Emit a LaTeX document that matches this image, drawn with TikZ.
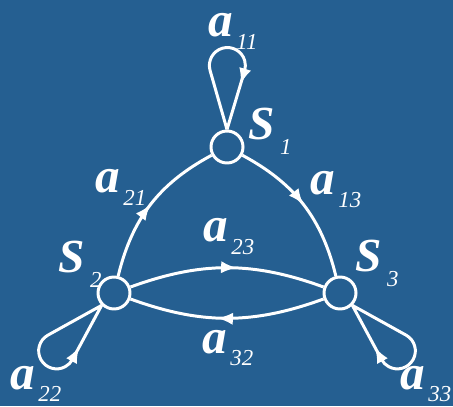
\documentclass[tikz,border=0pt]{standalone}
\usepackage{fontspec}
\setmainfont{Liberation Serif}
\usetikzlibrary{arrows.meta,decorations.markings}

\definecolor{boardblue}{RGB}{37,95,145}

\newcommand*{\wid}{453}
\newcommand*{\hei}{406}
% weight a_ij and state S_i
\newcommand*{\wgt}[1]{{\fontsize{28}{28}\selectfont\bfseries\itshape a}\kern2pt\raisebox{-7pt}{\fontsize{13}{13}\selectfont\itshape #1}}
\newcommand*{\stt}[1]{{\fontsize{27}{27}\selectfont\bfseries\itshape S}\kern3pt\raisebox{-8.5pt}{\fontsize{13}{13}\selectfont\itshape #1}}
% teardrop loop: anchor, axis angle, sense (+1 clockwise, -1 counter)
\newcommand*{\teardrop}[3]{%
	\draw[edge,midarrow=0.75] (#1) -- ++({#2+16*#3}:61.4)
		arc[start angle={#2+16*#3+90*#3}, end angle={#2-16*#3-90*#3}, radius=18] -- (#1);}

\begin{document}
\begin{tikzpicture}
[
	x=0.02cm, y=0.02cm,
	state/.style={circle,draw=white,line width=1.7pt,inner sep=0pt,minimum size=0.64cm},
	edge/.style={white,line width=1.7pt},
	midarrow/.style={postaction={decorate},decoration={markings,mark=at position #1 with {\arrow{Latex[length=9pt,width=7pt]}}}},
	lbl/.style={text=white,inner sep=0pt,anchor=base west}
]

	% background
	\fill[boardblue] (0,0) rectangle (\wid,\hei);
	\useasboundingbox (0,0) rectangle (\wid,\hei);

	% states
	\node[state] at (227,259) (s1) {};
	\node[state] at (114,113) (s2) {};
	\node[state] at (340,113) (s3) {};
	\node[lbl] at (248,266) (l1) {\stt{1}};
	\node[lbl] at (58,133) (l2) {\stt{2}};
	\node[lbl] at (355,134) (l3) {\stt{3}};

	% transitions
	\draw[edge,midarrow=0.5] (s2) to[bend left=24] (s1);
	\draw[edge,midarrow=0.5] (s1) to[bend left=24] (s3);
	\draw[edge,midarrow=0.55] (s2) to[bend left=20] (s3);
	\draw[edge,midarrow=0.55] (s3) to[bend left=20] (s2);

	% self loops
	\teardrop{s1.90}{90}{1}
	\teardrop{s2.225}{225}{-1}
	\teardrop{s3.315}{315}{1}

	% weights
	\node[lbl] at (208,369) (a11) {\wgt{11}};
	\node[lbl] at (95,213) (a21) {\wgt{21}};
	\node[lbl] at (310,211) (a13) {\wgt{13}};
	\node[lbl] at (203,164) (a23) {\wgt{23}};
	\node[lbl] at (202,53) (a32) {\wgt{32}};
	\node[lbl] at (10,17) (a22) {\wgt{22}};
	\node[lbl] at (400,17) (a33) {\wgt{33}};

\end{tikzpicture}
\end{document}
